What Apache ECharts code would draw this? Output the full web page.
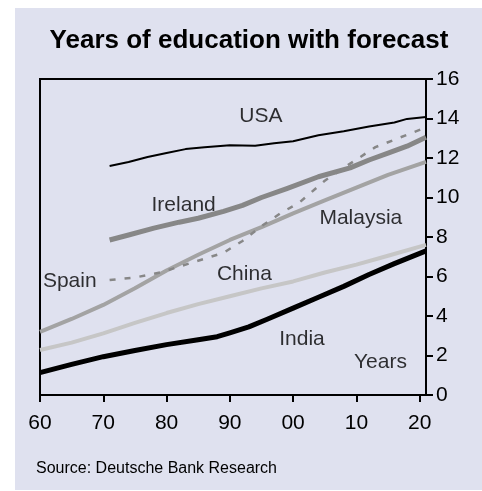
<!DOCTYPE html>
<html>
<head>
<meta charset="utf-8">
<script src="https://cdn.jsdelivr.net/npm/echarts@6/dist/echarts.min.js"></script>
<style>
html,body{margin:0;padding:0;background:#fff;}
#c{width:482px;height:491px;}
</style>
</head>
<body>
<div id="c"></div>
<script>
// ---- data ----
var titleText = 'Years of education with forecast';
var sourceText = 'Source: Deutsche Bank Research';
var xTicks = [1960, 1970, 1980, 1990, 2000, 2010, 2020];
var usa = [[1971,11.6],[1974,11.8],[1977,12.05],[1980,12.25],[1983,12.45],[1986,12.55],[1990,12.65],[1994,12.62],[1997,12.75],[2000,12.85],[2004,13.15],[2008,13.35],[2012,13.6],[2016,13.8],[2018,13.98],[2021,14.08]];
var ireland = [[1971,7.85],[1974,8.1],[1978,8.45],[1982,8.75],[1985,8.95],[1989,9.3],[1992,9.6],[1995,10.0],[1999,10.45],[2004,11.05],[2009,11.5],[2012,11.9],[2015,12.25],[2018,12.6],[2021,13.05]];
var malaysia = [[1960,3.2],[1965,3.85],[1970,4.56],[1975,5.4],[1980,6.3],[1985,7.1],[1990,7.85],[1995,8.5],[2000,9.2],[2005,9.85],[2010,10.5],[2015,11.15],[2021,11.8]];
var spain = [[1971,5.82],[1975,5.95],[1979,6.2],[1984,6.7],[1989,7.2],[1992,7.8],[1995,8.55],[1998,9.2],[2001,9.75],[2005,10.85],[2008,11.5],[2013,12.55],[2017,13.05],[2021,13.55]];
var china = [[1960,2.28],[1965,2.65],[1970,3.12],[1975,3.65],[1980,4.15],[1985,4.6],[1990,5.0],[1995,5.4],[2000,5.75],[2005,6.2],[2010,6.6],[2015,7.05],[2021,7.6]];
var india = [[1960,1.13],[1965,1.55],[1970,1.94],[1975,2.25],[1980,2.55],[1985,2.8],[1988,2.95],[1990,3.15],[1993,3.45],[1996,3.85],[2000,4.4],[2004,4.95],[2008,5.5],[2012,6.1],[2016,6.65],[2021,7.3]];
var annotations = [[1994.9,14.13,'USA'],[1982.7,9.6,'Ireland'],[2010.7,8.96,'Malaysia'],[1964.7,5.77,'Spain'],[1992.3,6.13,'China'],[2001.4,2.84,'India'],[2013.8,1.65,'Years']];

var FONT = '"Liberation Sans", Arial, sans-serif';
var chart = echarts.init(document.getElementById('c'), null, {renderer:'canvas'});

function lineSeries(name, data, color, width, type) {
  return {
    name: name, type: 'line', data: data, symbol: 'none', smooth: false,
    lineStyle: {color: color, width: width, type: type || 'solid', cap: 'butt', join: 'round'},
    silent: true, animation: false, clip: true, z: 3
  };
}

var option = {
  animation: false,
  textStyle: {fontFamily: FONT},
  graphic: [
    {type: 'rect', shape: {x: 15, y: 8, width: 467, height: 482}, style: {fill: '#dfe1ef'}, z: -10, silent: true},
    {type: 'text', x: 249, y: 41, style: {text: titleText, font: 'bold 26px ' + FONT, fill: '#000', textAlign: 'center', textVerticalAlign: 'middle'}, z: 10},
    {type: 'text', left: 36, top: 461, style: {text: sourceText, font: '16px ' + FONT, fill: '#000'}, z: 10}
  ],
  grid: {left: 40, top: 79, right: 56, bottom: 96, show: true, borderColor: '#000', borderWidth: 2, backgroundColor: 'transparent'},
  xAxis: {
    type: 'value', min: 1960, max: 2021, interval: 10, position: 'bottom',
    axisLine: {show: true, lineStyle: {color: '#000', width: 2}},
    axisTick: {show: true, length: 7, lineStyle: {color: '#000', width: 2}, customValues: xTicks},
    axisLabel: {show: true, margin: 18, fontSize: 21, color: '#000', fontFamily: FONT, customValues: xTicks,
      formatter: function (v) { var s = String(v % 100); return s.length < 2 ? '0' + s : s; }},
    splitLine: {show: false}
  },
  yAxis: {
    type: 'value', min: 0, max: 16, interval: 2, position: 'right',
    axisLine: {show: true, lineStyle: {color: '#000', width: 2}},
    axisTick: {show: true, inside: false, length: 7, lineStyle: {color: '#000', width: 2}},
    axisLabel: {show: true, margin: 10, fontSize: 21, color: '#000', fontFamily: FONT},
    splitLine: {show: false}
  },
  series: [
    lineSeries('China', china, '#c6c6c6', 4),
    lineSeries('Malaysia', malaysia, '#a3a3a3', 4),
    lineSeries('Ireland', ireland, '#878787', 5),
    lineSeries('Spain', spain, '#878787', 2.5, [6, 9]),
    lineSeries('India', india, '#000', 5),
    lineSeries('USA', usa, '#000', 2),
    {
      type: 'scatter', data: annotations, symbolSize: 0, silent: true, z: 5,
      label: {show: true, position: 'inside', fontSize: 21, color: '#000', fontFamily: FONT,
        formatter: function (p) { return p.data[2]; }}
    }
  ]
};
chart.setOption(option);
</script>
</body>
</html>
